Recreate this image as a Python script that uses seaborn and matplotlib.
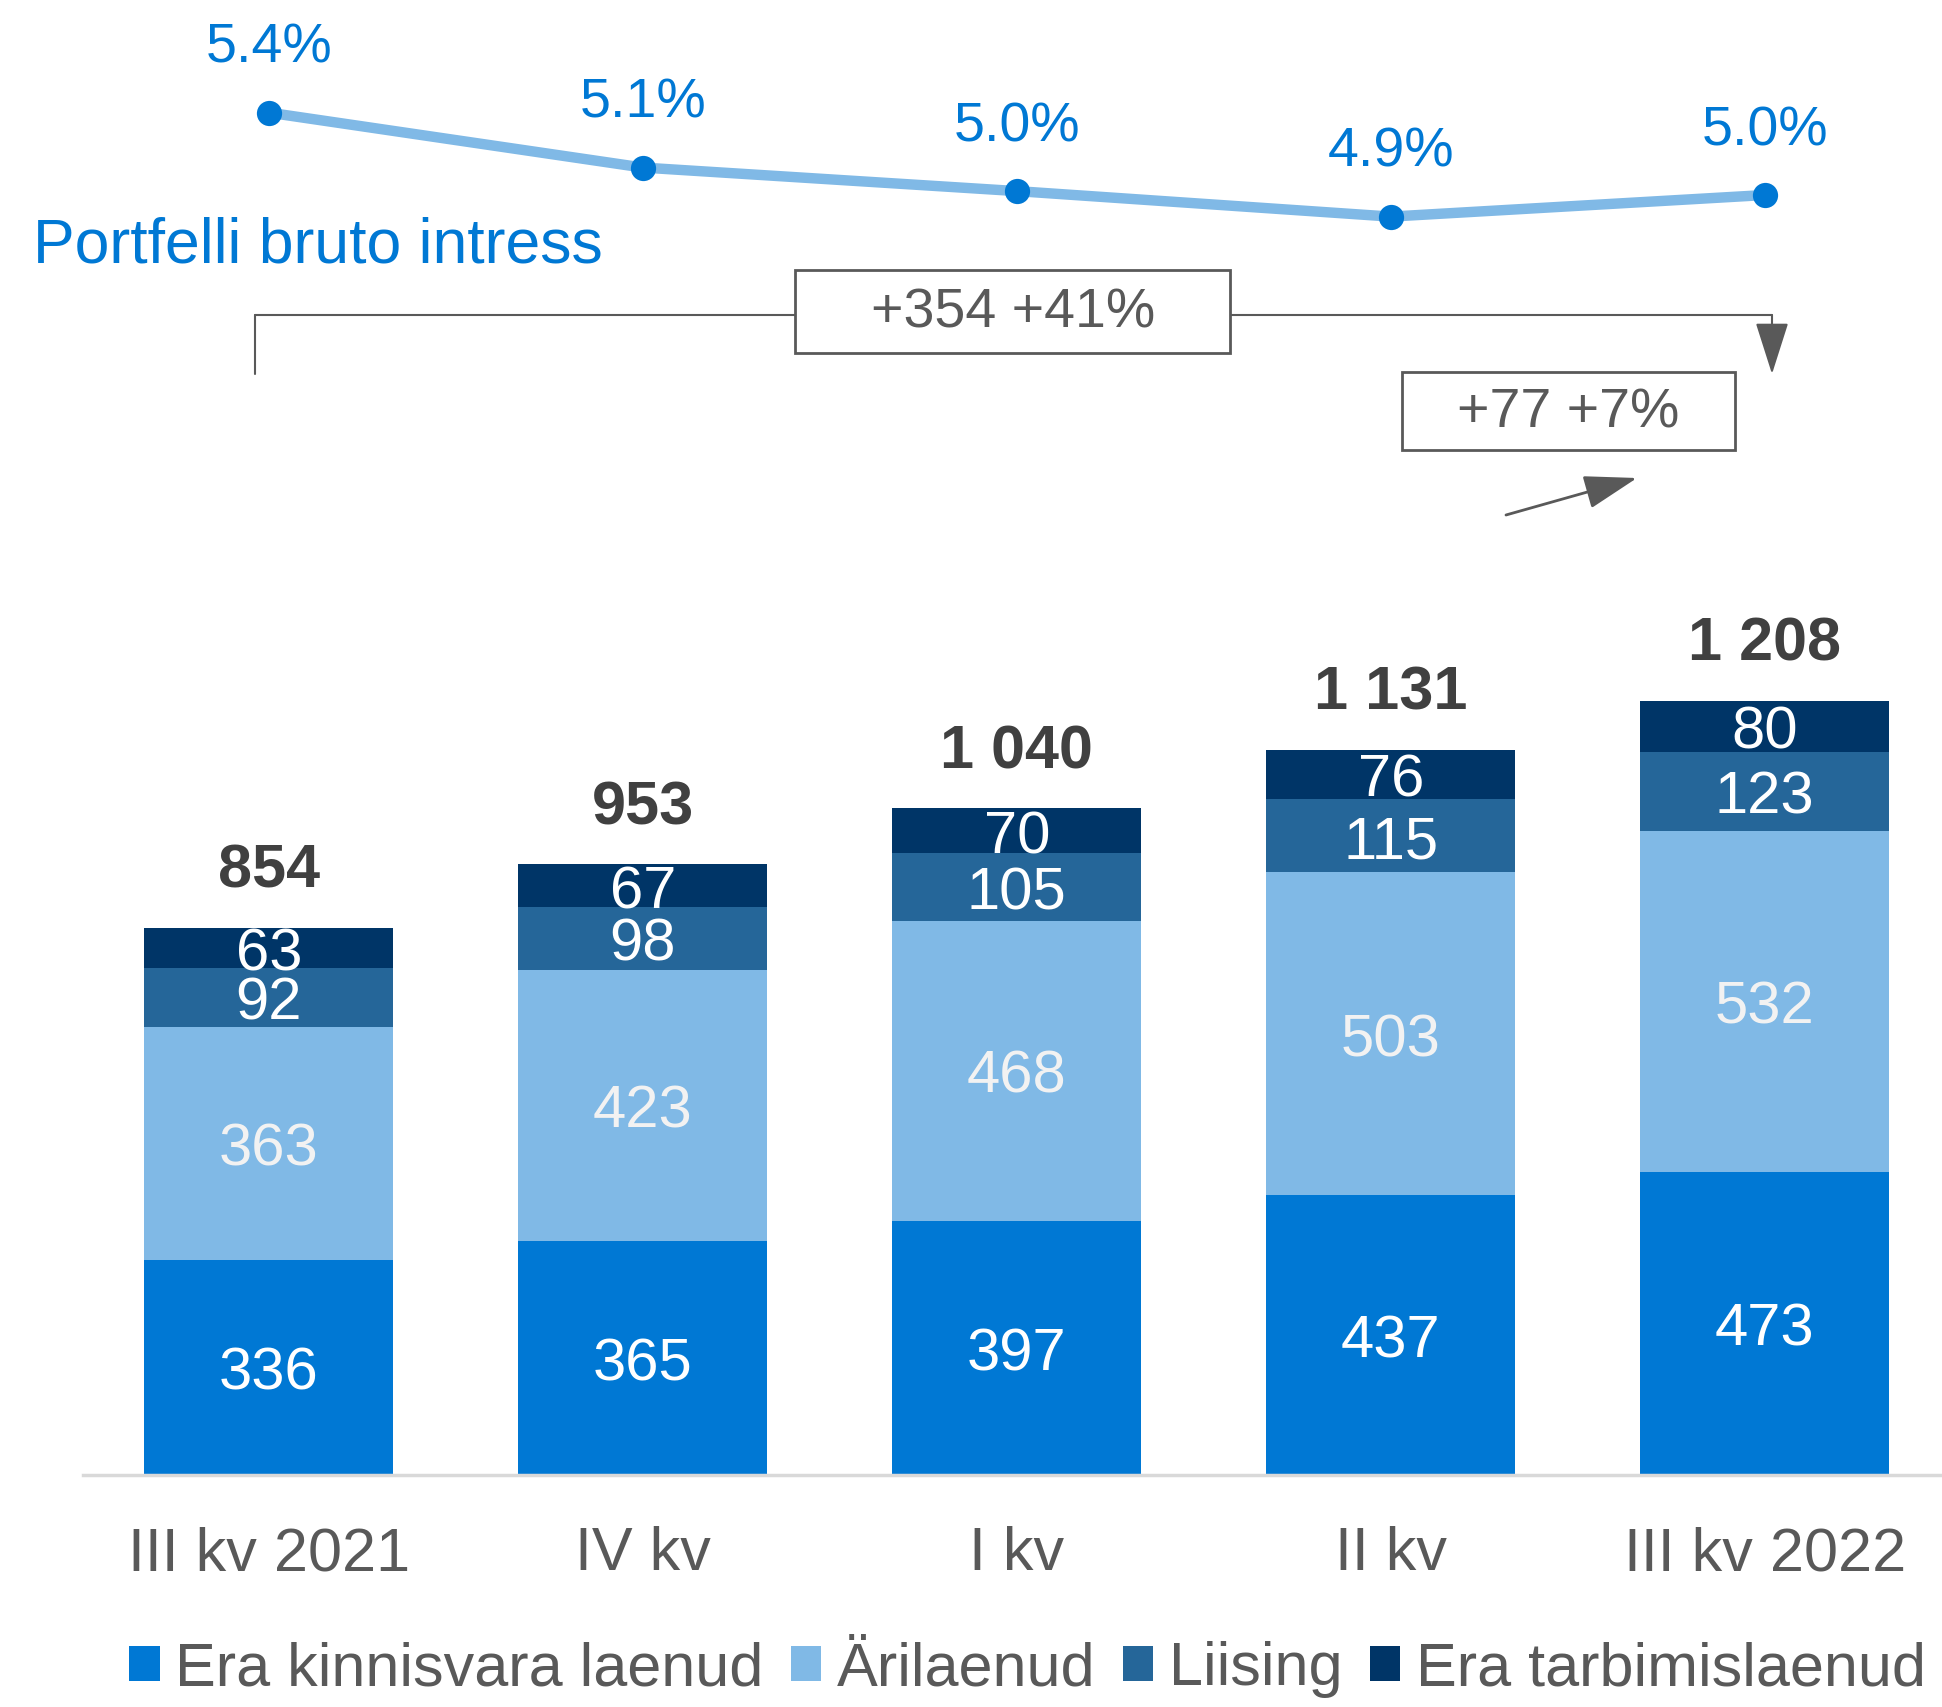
import numpy as np
import pandas as pd
import matplotlib
matplotlib.use("Agg")
import matplotlib.pyplot as plt
from matplotlib.patches import Patch, FancyArrowPatch, Rectangle
import seaborn as sns

sns.set_style("white")
plt.rcParams['font.family'] = ['Liberation Sans', 'DejaVu Sans']

# ---- data ----
quarters = ["III kv 2021", "IV kv", "I kv", "II kv", "III kv 2022"]
series_names = ["Era kinnisvara laenud", "Ärilaenud", "Liising", "Era tarbimislaenud"]
era_kinnisvara = [336, 365, 397, 437, 473]
arilaenud = [363, 423, 468, 503, 532]
liising = [92, 98, 105, 115, 123]
era_tarbimis = [63, 67, 70, 76, 80]
totals = [854, 953, 1040, 1131, 1208]
total_labels = ["854", "953", "1 040", "1 131", "1 208"]
intress = [5.42, 5.14, 5.02, 4.89, 5.00]
intress_labels = ["5.4%", "5.1%", "5.0%", "4.9%", "5.0%"]
line_title = "Portfelli bruto intress"
change_total = "+354 +41%"
change_q = "+77 +7%"

colors = ["#0078D4", "#80B9E6", "#256699", "#003567"]
gray = "#595959"

W, H = 1942, 1707
fig = plt.figure(figsize=(W / 100, H / 100), dpi=100)

def fx(px):
    return px / W

def fy(py):
    return 1 - py / H

# bar axes
ax_top_px, ax_bot_px = 560, 1475
ax = fig.add_axes([fx(83), fy(ax_bot_px), fx(W - 83), (ax_bot_px - ax_top_px) / H])

series = [era_kinnisvara, arilaenud, liising, era_tarbimis]
cums = np.cumsum(np.array(series), axis=0)
for k in range(len(series) - 1, -1, -1):
    df = pd.DataFrame({"q": quarters, "v": cums[k]})
    sns.barplot(data=df, x="q", y="v", color=colors[k], saturation=1, width=0.666,
                linewidth=0, ax=ax, errorbar=None)

px_per_unit = 0.641
ymax = (ax_bot_px - ax_top_px) / px_per_unit
ax.set_xlim(-0.497, 4.474)
ax.set_ylim(0, ymax)

label_colors = ["white", "#F2F2F2", "white", "white"]
for i in range(len(quarters)):
    bottom = 0
    for k, s in enumerate(series):
        ax.annotate(str(s[i]), (i, bottom + s[i] / 2), xytext=(0, -5), textcoords="offset points",
                    ha="center", va="center", fontsize=43, color=label_colors[k])
        bottom += s[i]
    ax.annotate(total_labels[i], (i, totals[i]), xytext=(0, 40), textcoords="offset points",
                ha="center", va="center", fontsize=44, fontweight="bold", color="#404040")

for sp in ["top", "right", "left"]:
    ax.spines[sp].set_visible(False)
ax.spines["bottom"].set_color("#D9D9D9")
ax.spines["bottom"].set_linewidth(2.5)
ax.set_yticks([])
ax.set_xlabel("")
ax.set_ylabel("")
ax.tick_params(axis="x", length=0, pad=37, labelsize=44, labelcolor=gray)

# line axes
ax2 = fig.add_axes([fx(83), fy(300), fx(W - 83), 300 / H])
ax2.set_xlim(-0.497, 4.474)
ax2.set_ylim(4.465, 5.994)
xs = np.arange(len(quarters))
sns.lineplot(x=xs, y=intress, color="#80B9E6", linewidth=7.5, ax=ax2, sort=False)
sns.scatterplot(x=xs, y=intress, color="#0078D4", s=330, linewidth=0, ax=ax2, zorder=3)
for i, (v, lab) in enumerate(zip(intress, intress_labels)):
    ax2.annotate(lab, (i, v), xytext=(0, 46), textcoords="offset points",
                 ha="center", va="center", fontsize=40, color="#0078D4")
ax2.axis("off")

fig.text(fx(33), fy(246), line_title, ha="left", va="center", fontsize=45, color="#0078D4")

# bracket annotation
y_br = fy(315)
fig.add_artist(plt.Line2D([fx(255), fx(255)], [fy(374), y_br], color=gray, lw=1.5, zorder=1))
fig.add_artist(plt.Line2D([fx(255), fx(1772)], [y_br, y_br], color=gray, lw=1.5, zorder=1))
fig.add_artist(FancyArrowPatch((fx(1772), y_br), (fx(1772), fy(374)), transform=fig.transFigure,
                               arrowstyle="-|>,head_length=1.1,head_width=0.35", color=gray, lw=1.5,
                               mutation_scale=30, shrinkA=0, shrinkB=0, zorder=1))
fig.add_artist(Rectangle((fx(795), fy(353)), fx(1230 - 795), (353 - 270) / H, transform=fig.transFigure,
                         fc="white", ec=gray, lw=2, zorder=5))
fig.text(fx(1013), fy(313), change_total, ha="center", va="center", fontsize=40, color=gray, zorder=6)
fig.add_artist(Rectangle((fx(1402), fy(450)), fx(1735 - 1402), (450 - 372) / H, transform=fig.transFigure,
                         fc="white", ec=gray, lw=2, zorder=5))
fig.text(fx(1568), fy(413), change_q, ha="center", va="center", fontsize=40, color=gray, zorder=6)
fig.add_artist(FancyArrowPatch((fx(1506), fy(515)), (fx(1637), fy(478)), transform=fig.transFigure,
                               arrowstyle="-|>,head_length=1.1,head_width=0.35", color=gray, lw=2,
                               mutation_scale=30, shrinkA=0, shrinkB=0))

# legend
handles = [Patch(facecolor=c, edgecolor="none") for c in colors]
leg = fig.legend(handles, series_names, loc="center", bbox_to_anchor=(0.529, fy(1670)), ncol=4,
                 frameon=False, fontsize=44, handlelength=0.5, handleheight=0.5,
                 handletextpad=0.25, columnspacing=0.45, labelcolor=gray)

fig.savefig("out.png", dpi=100)
